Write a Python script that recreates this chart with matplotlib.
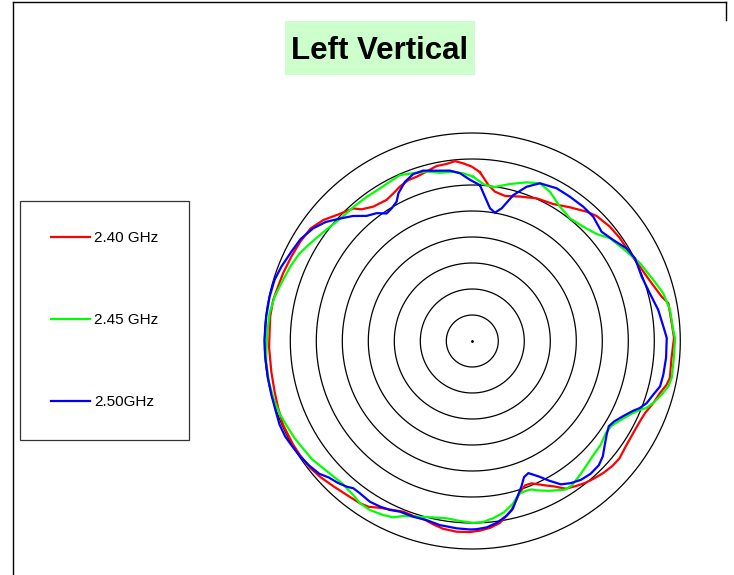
import numpy as np
import matplotlib
matplotlib.use("Agg")
import matplotlib.pyplot as plt
from matplotlib.patches import Rectangle
from matplotlib.lines import Line2D

plt.rcParams['font.family'] = ['Liberation Sans', 'DejaVu Sans']

# angle (deg, clockwise from top) and level (rings, 8 = outer ring) per frequency
ang_240 = [2.6, 5.9, 8.6, 12.7, 18.3, 24.3, 30.6, 36.2, 41.5, 44.8, 50.3, 55.2, 60.9, 66.1,
           72.2, 76.8, 79.1, 84.9, 89.1, 94.9, 100.6, 102.7, 105.5, 108.9, 112.6, 115.5, 120.0,
           124.5, 128.6, 131.7, 135.3, 138.6, 141.6, 144.6, 147.7, 150.6, 153.5, 155.3, 157.4,
           159.9, 161.5, 163.4, 166.9, 171.4, 174.6, 177.7, 180.7, 184.7, 188.8, 192.0, 195.4,
           198.6, 202.0, 205.1, 208.9, 212.0, 214.7, 219.2, 223.7, 228.0, 232.0, 236.5, 240.0,
           246.1, 250.9, 255.6, 261.3, 268.3, 276.9, 281.6, 285.6, 289.7, 295.0, 300.0, 304.8,
           309.1, 313.5, 318.1, 319.9, 323.6, 328.7, 331.9, 334.9, 338.3, 341.3, 344.9, 348.5,
           351.7, 354.5, 357.1, 359.8]
lvl_240 = [6.50, 6.03, 5.81, 5.72, 5.85, 6.02, 6.12, 6.37, 6.64, 6.78, 6.88, 6.92, 6.94, 7.05,
           7.25, 7.48, 7.68, 7.70, 7.76, 7.69, 7.73, 7.66, 7.49, 7.36, 7.20, 7.15, 7.13,
           7.16, 7.24, 7.22, 7.15, 7.06, 6.97, 6.85, 6.72, 6.42, 6.20, 6.07, 5.93,
           5.91, 6.02, 6.20, 6.67, 7.08, 7.22, 7.30, 7.35, 7.36, 7.31, 7.21, 7.10,
           7.10, 7.08, 7.18, 7.33, 7.52, 7.59, 7.64, 7.73, 7.84, 7.92, 7.95, 7.96,
           7.96, 7.90, 7.85, 7.82, 7.82, 7.83, 7.82, 7.76, 7.73, 7.68, 7.64, 7.58,
           7.38, 7.08, 6.85, 6.62, 6.42, 6.35, 6.44, 6.56, 6.66, 6.67, 6.75, 6.87,
           6.88, 6.95, 6.84, 6.71]

ang_245 = [0.3, 4.0, 7.8, 13.5, 18.9, 23.2, 27.5, 33.1, 38.5, 44.2, 49.3, 53.3, 59.9, 65.1,
           71.4, 76.0, 81.1, 86.9, 89.2, 94.8, 100.5, 103.0, 105.8, 108.3, 111.0, 112.3, 114.7,
           118.0, 121.3, 124.6, 129.0, 133.5, 136.5, 139.0, 142.5, 145.5, 148.0, 152.8, 156.4,
           158.2, 160.3, 163.0, 166.0, 169.5, 173.2, 176.5, 179.7, 183.9, 188.2, 192.5, 197.6,
           201.5, 204.1, 207.1, 211.2, 214.7, 217.7, 222.4, 226.8, 230.0, 233.5, 238.0, 241.3,
           245.7, 249.4, 254.0, 258.7, 264.3, 271.2, 277.8, 282.6, 287.9, 292.8, 296.9, 301.0,
           304.5, 307.7, 312.8, 318.5, 323.8, 328.8, 332.7, 336.5, 340.6, 344.9, 349.1, 353.6,
           356.9]
lvl_245 = [6.32, 6.05, 5.97, 6.21, 6.45, 6.60, 6.47, 6.17, 6.03, 6.13, 6.31, 6.61, 6.86, 7.11,
           7.35, 7.57, 7.70, 7.74, 7.80, 7.78, 7.80, 7.74, 7.57, 7.40, 7.18, 6.97, 6.72,
           6.47, 6.27, 6.24, 6.35, 6.40, 6.47, 6.54, 6.65, 6.75, 6.74, 6.48, 6.27,
           6.15, 6.12, 6.15, 6.45, 6.70, 6.86, 6.97, 6.99, 6.94, 6.89, 6.95, 7.09,
           7.23, 7.43, 7.52, 7.60, 7.59, 7.49, 7.42, 7.48, 7.55, 7.66, 7.72, 7.79,
           7.85, 7.92, 7.96, 7.98, 7.97, 7.90, 7.87, 7.79, 7.65, 7.55, 7.45, 7.28,
           7.15, 7.05, 6.92, 6.89, 6.87, 6.86, 6.90, 6.96, 6.84, 6.75, 6.59, 6.55,
           6.46]

ang_250 = [2.8, 5.0, 7.6, 10.0, 12.5, 15.7, 19.4, 23.2, 28.9, 34.1, 39.6, 44.2, 49.8, 54.4,
           59.0, 63.1, 69.2, 75.0, 80.5, 85.7, 89.1, 95.0, 100.0, 103.6, 106.5, 109.6, 111.8,
           113.4, 116.5, 119.6, 122.0, 124.9, 127.5, 131.5, 134.5, 138.3, 142.0, 145.3, 148.3,
           151.2, 153.8, 157.0, 159.2, 161.3, 163.0, 166.5, 168.9, 172.4, 175.6, 178.7, 180.7,
           184.8, 190.0, 194.3, 198.6, 203.0, 206.0, 209.1, 212.5, 216.4, 218.9, 220.8, 223.5,
           226.5, 229.0, 232.5, 236.5, 240.1, 243.0, 246.6, 250.0, 255.0, 260.0, 266.1, 270.3,
           276.7, 282.3, 287.2, 291.3, 296.3, 300.7, 305.3, 309.1, 312.6, 316.3, 319.8, 323.2,
           326.1, 328.7, 331.5, 333.4, 337.1, 340.5, 343.9, 348.2, 352.5, 355.8, 359.2]
lvl_250 = [6.00, 5.57, 5.15, 5.01, 5.23, 5.83, 6.29, 6.60, 6.71, 6.70, 6.70, 6.67, 6.51, 6.67,
           6.92, 7.02, 6.97, 7.07, 7.25, 7.37, 7.48, 7.48, 7.46, 7.43, 7.26, 7.12, 6.94,
           6.75, 6.48, 6.27, 6.19, 6.30, 6.44, 6.70, 6.82, 6.84, 6.78, 6.65, 6.48,
           6.13, 5.81, 5.52, 5.60, 5.90, 6.12, 6.65, 6.85, 7.06, 7.19, 7.24, 7.25,
           7.23, 7.19, 7.11, 7.13, 7.13, 7.23, 7.29, 7.33, 7.28, 7.28, 7.40, 7.52,
           7.62, 7.79, 7.89, 7.98, 8.03, 8.08, 8.08, 8.03, 8.00, 7.99, 7.99, 7.99,
           7.98, 7.98, 7.96, 7.88, 7.76, 7.68, 7.50, 7.26, 6.95, 6.65, 6.30, 6.14,
           5.91, 5.97, 6.10, 6.35, 6.65, 6.81, 6.82, 6.69, 6.61, 6.47, 6.20]

series = [("2.40 GHz", ang_240, lvl_240, "#ff0000"),
          ("2.45 GHz", ang_245, lvl_245, "#00ff00"),
          ("2.50GHz", ang_250, lvl_250, "#0000ff")]
rings = [1, 2, 3, 4, 5, 6, 7, 8]

W, H = 734, 575
fig = plt.figure(figsize=(W / 100, H / 100), dpi=100)

# polar plot: center (472, 341) px, outer ring radius 208 px
rmax = 8.2
rad = 208 * rmax / 8
cx, cy = 472.3, 341
ax = fig.add_axes([(cx - rad) / W, (H - cy - rad) / H, 2 * rad / W, 2 * rad / H],
                  projection='polar')
ax.set_theta_zero_location('N')
ax.set_theta_direction(-1)

# concentric rings drawn as plain circles (no tick marks)
circ = np.linspace(0, 2 * np.pi, 721)
for r in rings:
    ax.plot(circ, np.full_like(circ, r), color='black', lw=0.9, zorder=1,
            solid_capstyle='butt', solid_joinstyle='round')

handles = []
for name, a, r, col in series:
    th = np.deg2rad(a + [a[0] + 360])
    rr = r + [r[0]]
    ln, = ax.plot(th, rr, color=col, lw=1.6, label=name, zorder=3)
    handles.append(ln)
ax.plot([0], [0], 'k.', ms=2)

ax.set_ylim(0, rmax)
ax.set_yticks([])
ax.set_xticks([])
ax.grid(False)
for sp in ax.spines.values():
    sp.set_visible(False)

# title box
fig.patches.append(Rectangle((285 / W, 1 - 75 / H), 190 / W, 54 / H,
                             transform=fig.transFigure, facecolor='#ccffcc',
                             edgecolor='none', zorder=0))
fig.text(380 / W, 1 - 59.3 / H, "Left Vertical", ha='center', va='baseline',
         fontsize=22.5, fontweight='bold')

# legend
leg = fig.legend(handles, [s[0] for s in series], loc='upper left',
                 bbox_to_anchor=(20 / W, 1 - 200.7 / H), fontsize=11,
                 frameon=True, fancybox=False, edgecolor='#333333', framealpha=1,
                 borderpad=2.0, labelspacing=4.45, handlelength=2.57,
                 handletextpad=0.26, borderaxespad=0)
leg.get_frame().set_linewidth(0.9)

# page border
fig.lines.append(Line2D([13 / W, 13 / W], [0, 1 - 2 / H], transform=fig.transFigure,
                        color='black', lw=1))
fig.lines.append(Line2D([13 / W, 726 / W], [1 - 2 / H, 1 - 2 / H], transform=fig.transFigure,
                        color='black', lw=1))
fig.lines.append(Line2D([726 / W, 726 / W], [1 - 2 / H, 1 - 20 / H], transform=fig.transFigure,
                        color='black', lw=1))

fig.savefig("out.png", dpi=100)
